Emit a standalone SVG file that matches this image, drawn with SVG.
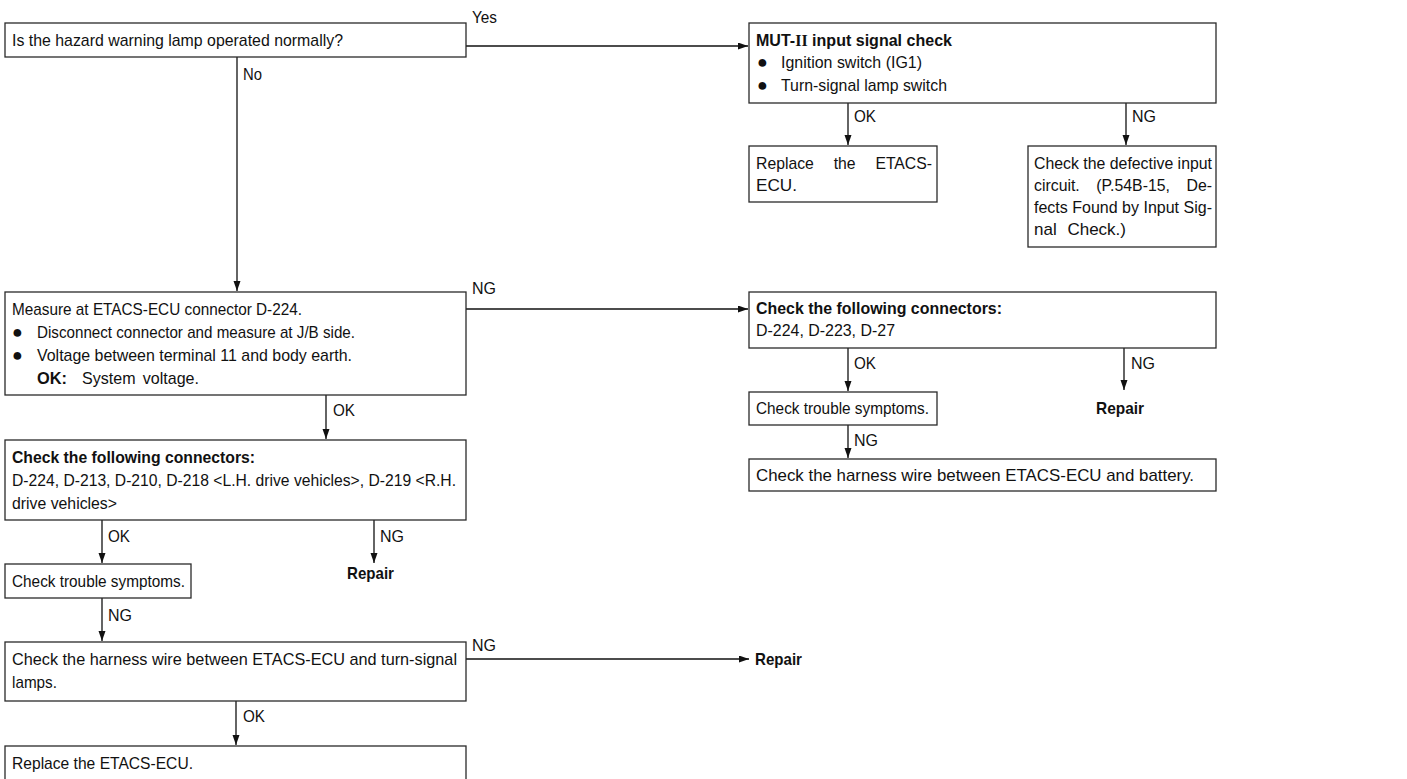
<svg xmlns="http://www.w3.org/2000/svg" width="1407" height="779" viewBox="0 0 1407 779">
<style>
  .box{fill:#fff;stroke:#2a2a2a;stroke-width:1.3}
  .t{font-family:"Liberation Sans",Arial,sans-serif;font-size:17px;fill:#111}
  .b{font-weight:bold}
  .bul{font-family:"Liberation Sans","DejaVu Sans",sans-serif;font-size:18px;fill:#111}
  .ln{fill:none;stroke:#111;stroke-width:1.3}
  .rn{font-family:"Liberation Serif",serif}
</style>
<defs>
  <marker id="ah" markerUnits="userSpaceOnUse" markerWidth="11" markerHeight="8" refX="10" refY="3.5" orient="auto">
    <path d="M0,0 L10,3.5 L0,7 z" fill="#111"/>
  </marker>
</defs>
<rect width="1407" height="779" fill="#fff"/>

<g id="connectors">
  <path class="ln" d="M466,46 H748" marker-end="url(#ah)"/>
  <text class="t" x="472" y="23" textLength="25" lengthAdjust="spacingAndGlyphs">Yes</text>
  <path class="ln" d="M237,57 V291" marker-end="url(#ah)"/>
  <text class="t" x="243" y="80" textLength="19" lengthAdjust="spacingAndGlyphs">No</text>

  <path class="ln" d="M848,103 V145" marker-end="url(#ah)"/>
  <text class="t" x="854" y="122" textLength="22" lengthAdjust="spacingAndGlyphs">OK</text>
  <path class="ln" d="M1126,103 V145" marker-end="url(#ah)"/>
  <text class="t" x="1132" y="122" textLength="24" lengthAdjust="spacingAndGlyphs">NG</text>

  <path class="ln" d="M466,309 H748" marker-end="url(#ah)"/>
  <text class="t" x="472" y="294" textLength="24" lengthAdjust="spacingAndGlyphs">NG</text>

  <path class="ln" d="M848,348 V391" marker-end="url(#ah)"/>
  <text class="t" x="854" y="369" textLength="22" lengthAdjust="spacingAndGlyphs">OK</text>
  <path class="ln" d="M1124,348 V390" marker-end="url(#ah)"/>
  <text class="t" x="1131" y="369" textLength="24" lengthAdjust="spacingAndGlyphs">NG</text>
  <path class="ln" d="M848,425 V458" marker-end="url(#ah)"/>
  <text class="t" x="854" y="446" textLength="24" lengthAdjust="spacingAndGlyphs">NG</text>

  <path class="ln" d="M326,395 V439" marker-end="url(#ah)"/>
  <text class="t" x="333" y="416" textLength="22" lengthAdjust="spacingAndGlyphs">OK</text>

  <path class="ln" d="M102,520 V563" marker-end="url(#ah)"/>
  <text class="t" x="108" y="542" textLength="22" lengthAdjust="spacingAndGlyphs">OK</text>
  <path class="ln" d="M374,520 V563" marker-end="url(#ah)"/>
  <text class="t" x="380" y="542" textLength="24" lengthAdjust="spacingAndGlyphs">NG</text>
  <path class="ln" d="M102,598 V641" marker-end="url(#ah)"/>
  <text class="t" x="108" y="621" textLength="24" lengthAdjust="spacingAndGlyphs">NG</text>

  <path class="ln" d="M466,659 H749" marker-end="url(#ah)"/>
  <text class="t" x="472" y="651" textLength="24" lengthAdjust="spacingAndGlyphs">NG</text>
  <path class="ln" d="M236,701 V745" marker-end="url(#ah)"/>
  <text class="t" x="243" y="722" textLength="22" lengthAdjust="spacingAndGlyphs">OK</text>
</g>

<g id="n1">
  <rect class="box" x="5" y="23" width="461" height="34"/>
  <text class="t" x="12" y="46" textLength="331" lengthAdjust="spacingAndGlyphs">Is the hazard warning lamp operated normally?</text>
</g>

<g id="n2">
  <rect class="box" x="749" y="23" width="467" height="80"/>
  <text class="t b" x="756" y="46" textLength="196" lengthAdjust="spacingAndGlyphs">MUT-<tspan class="rn">II</tspan> input signal check</text>
  <text class="bul" x="757" y="68">●</text>
  <text class="t" x="781" y="68" textLength="141" lengthAdjust="spacingAndGlyphs">Ignition switch (IG1)</text>
  <text class="bul" x="757" y="91">●</text>
  <text class="t" x="781" y="91" textLength="166" lengthAdjust="spacingAndGlyphs">Turn-signal lamp switch</text>
</g>

<g id="n3">
  <rect class="box" x="749" y="146" width="188" height="56"/>
  <text class="t" x="756" y="169" word-spacing="16.7" textLength="176" lengthAdjust="spacingAndGlyphs">Replace the ETACS-</text>
  <text class="t" x="756" y="191" textLength="41" lengthAdjust="spacingAndGlyphs">ECU.</text>
</g>

<g id="n4">
  <rect class="box" x="1028" y="146" width="188" height="101"/>
  <text class="t" x="1034" y="169" textLength="178" lengthAdjust="spacingAndGlyphs">Check the defective input</text>
  <text class="t" x="1034" y="191" word-spacing="13" textLength="178" lengthAdjust="spacingAndGlyphs">circuit. (P.54B-15, De-</text>
  <text class="t" x="1034" y="213" textLength="178" lengthAdjust="spacingAndGlyphs">fects Found by Input Sig-</text>
  <text class="t" x="1034" y="235" word-spacing="6" textLength="92" lengthAdjust="spacingAndGlyphs">nal Check.)</text>
</g>

<g id="n5">
  <rect class="box" x="5" y="292" width="461" height="103"/>
  <text class="t" x="12" y="315" textLength="290" lengthAdjust="spacingAndGlyphs">Measure at ETACS-ECU connector D-224.</text>
  <text class="bul" x="12" y="338">●</text>
  <text class="t" x="37" y="338" textLength="318" lengthAdjust="spacingAndGlyphs">Disconnect connector and measure at J/B side.</text>
  <text class="bul" x="12" y="361">●</text>
  <text class="t" x="37" y="361" textLength="315" lengthAdjust="spacingAndGlyphs">Voltage between terminal 11 and body earth.</text>
  <text class="t b" x="37" y="384" textLength="30" lengthAdjust="spacingAndGlyphs">OK:</text>
  <text class="t" x="82" y="384" textLength="117" lengthAdjust="spacingAndGlyphs" word-spacing="3">System voltage.</text>
</g>

<g id="n6">
  <rect class="box" x="749" y="292" width="467" height="56"/>
  <text class="t b" x="756" y="314" textLength="246" lengthAdjust="spacingAndGlyphs">Check the following connectors:</text>
  <text class="t" x="756" y="336" textLength="139" lengthAdjust="spacingAndGlyphs">D-224, D-223, D-27</text>
</g>

<g id="n7">
  <rect class="box" x="749" y="392" width="188" height="33"/>
  <text class="t" x="756" y="414" textLength="173" lengthAdjust="spacingAndGlyphs">Check trouble symptoms.</text>
</g>

<g id="n8">
  <text class="t b" x="1096" y="414" textLength="48" lengthAdjust="spacingAndGlyphs">Repair</text>
</g>

<g id="n9">
  <rect class="box" x="749" y="459" width="467" height="32"/>
  <text class="t" x="756" y="481" textLength="438" lengthAdjust="spacingAndGlyphs">Check the harness wire between ETACS-ECU and battery.</text>
</g>

<g id="n10">
  <rect class="box" x="5" y="440" width="461" height="80"/>
  <text class="t b" x="12" y="463" textLength="243" lengthAdjust="spacingAndGlyphs">Check the following connectors:</text>
  <text class="t" x="12" y="486" textLength="444" lengthAdjust="spacingAndGlyphs">D-224, D-213, D-210, D-218 &lt;L.H. drive vehicles&gt;, D-219 &lt;R.H.</text>
  <text class="t" x="12" y="509" textLength="105" lengthAdjust="spacingAndGlyphs">drive vehicles&gt;</text>
</g>

<g id="n11">
  <rect class="box" x="5" y="564" width="186" height="34"/>
  <text class="t" x="12" y="587" textLength="173" lengthAdjust="spacingAndGlyphs">Check trouble symptoms.</text>
</g>

<g id="n12">
  <text class="t b" x="347" y="579" textLength="47" lengthAdjust="spacingAndGlyphs">Repair</text>
</g>

<g id="n13">
  <rect class="box" x="5" y="642" width="461" height="59"/>
  <text class="t" x="12" y="665" textLength="445" lengthAdjust="spacingAndGlyphs">Check the harness wire between ETACS-ECU and turn-signal</text>
  <text class="t" x="12" y="688" textLength="45" lengthAdjust="spacingAndGlyphs">lamps.</text>
</g>

<g id="n14">
  <text class="t b" x="755" y="665" textLength="47" lengthAdjust="spacingAndGlyphs">Repair</text>
</g>

<g id="n15">
  <rect class="box" x="5" y="746" width="461" height="60"/>
  <text class="t" x="12" y="769" textLength="181" lengthAdjust="spacingAndGlyphs">Replace the ETACS-ECU.</text>
</g>
</svg>
